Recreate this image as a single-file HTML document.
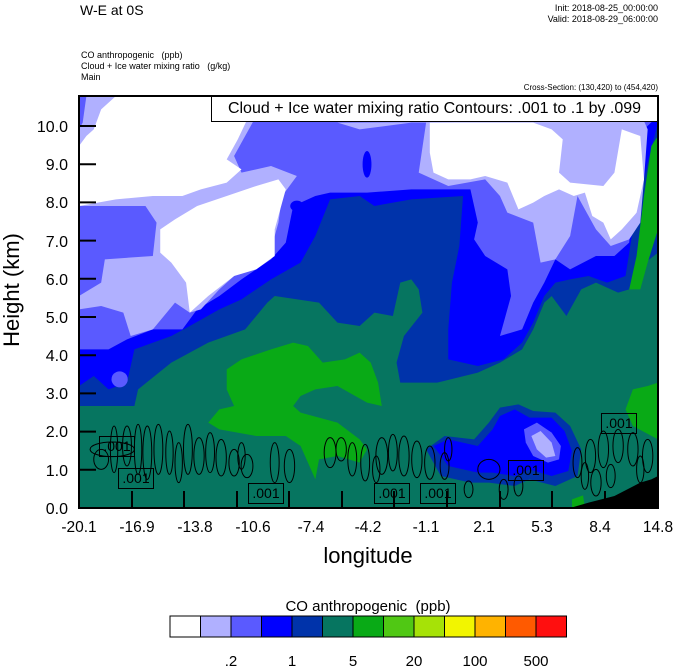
<!DOCTYPE html>
<html><head><meta charset="utf-8"><style>
body{margin:0;background:#fff;width:674px;height:667px;position:relative;overflow:hidden;font-family:"Liberation Sans",sans-serif;color:#000}
.t{position:absolute;white-space:nowrap;line-height:1}
.lb{position:absolute;width:34px;height:19px;border:1px solid #000;font-size:14px;line-height:19px;text-align:center}
</style></head><body>
<div class="t" style="left:80px;top:3px;font-size:14px">W-E at 0S</div>
<div class="t" style="right:16px;top:3px;font-size:9px;text-align:right;line-height:11px">Init: 2018-08-25_00:00:00<br>Valid: 2018-08-29_06:00:00</div>
<div class="t" style="left:81px;top:50px;font-size:9px;line-height:11px">CO anthropogenic &nbsp; (ppb)<br>Cloud + Ice water mixing ratio &nbsp; (g/kg)<br>Main</div>
<div class="t" style="right:16px;top:84px;font-size:8px">Cross-Section: (130,420) to (454,420)</div>

<svg style="position:absolute;left:79px;top:96px" width="579" height="412" viewBox="0 0 1568 1236" preserveAspectRatio="none">
<rect width="1568" height="1236" fill="#067560"/>
<polygon fill="#0033aa" points="0,930 150,930 160,880 250,800 350,740 450,700 510,620 530,600 650,620 700,680 760,690 800,650 850,660 870,560 900,550 920,580 930,650 880,720 860,800 870,860 970,860 1080,830 1140,800 1200,760 1230,700 1260,620 1280,600 1320,660 1360,580 1400,560 1460,590 1490,580 1510,520 1568,470 1568,0 0,0"/>
<polygon fill="#0000ff" points="0,870 40,840 80,880 130,860 150,760 250,720 300,690 380,640 440,610 520,550 600,500 640,420 680,310 760,300 800,330 900,310 1040,300 1030,450 1010,560 1000,700 1000,790 1080,810 1150,790 1200,740 1230,680 1260,600 1290,560 1330,550 1380,540 1430,560 1480,540 1500,400 1540,200 1568,80 1568,0 0,0"/>
<polygon fill="#5a5aff" points="0,760 80,760 130,730 200,700 280,700 320,640 380,600 440,550 520,490 560,440 580,330 640,300 680,290 780,290 900,280 1060,280 1080,380 1070,430 1100,480 1160,520 1170,600 1140,720 1200,700 1230,620 1260,560 1290,490 1330,520 1400,480 1450,480 1490,440 1500,300 1520,200 1530,100 1568,60 1568,0 0,0"/>
<polygon fill="#b0b0ff" points="0,640 60,630 120,650 140,720 200,700 260,620 300,650 330,640 380,580 440,520 520,460 540,380 550,300 590,240 520,210 440,230 420,180 440,140 470,80 500,0 0,0"/>
<polygon fill="#5a5aff" points="0,330 180,330 210,380 200,480 70,490 60,560 0,600"/>
<polygon fill="#b0b0ff" points="700,80 760,100 900,80 940,80 920,230 1000,270 1100,250 1140,300 1160,350 1230,380 1250,500 1290,490 1330,420 1350,300 1400,400 1440,450 1490,430 1520,380 1530,250 1540,100 1530,75"/>
<polygon fill="#5a5aff" points="0,0 20,0 10,80 0,100"/>
<polygon fill="#fff" points="20,120 40,100 60,40 100,0 440,0 460,60 430,130 400,190 440,220 400,260 330,280 280,300 200,300 100,310 0,330 0,150"/>
<polygon fill="#fff" points="220,400 260,370 320,330 400,300 480,270 540,250 560,280 530,400 530,480 480,520 420,540 350,600 300,650 290,560 250,500 220,470"/>
<polygon fill="#fff" points="950,80 1230,80 1280,100 1310,130 1300,230 1330,260 1420,270 1450,230 1470,100 1520,120 1530,250 1510,350 1470,400 1440,430 1420,380 1390,360 1370,290 1340,300 1300,280 1260,300 1230,320 1190,340 1160,260 1100,240 1060,250 1000,250 960,230 950,170"/>
<ellipse cx="590" cy="330" rx="18" ry="16" fill="#0000ff"/>
<ellipse cx="780" cy="205" rx="12" ry="40" fill="#0000ff"/>
<ellipse cx="110" cy="850" rx="22" ry="24" fill="#5a5aff"/>
<polygon fill="#09aa16" points="400,820 440,790 520,760 580,740 620,750 660,800 720,790 760,770 790,800 810,860 820,930 780,920 700,870 640,880 600,900 580,930 600,950 700,980 760,1030 780,1060 760,1100 700,1080 650,1090 640,1150 620,1100 600,1050 560,1020 480,1020 380,1000 350,980 380,940 420,930 400,880"/>
<polygon fill="#09aa16" points="1490,580 1510,480 1530,300 1550,150 1568,120 1568,400 1540,500 1520,580"/>
<polygon fill="#09aa16" points="1480,940 1500,880 1540,870 1568,860 1568,1030 1500,990"/>
<polygon fill="#0033aa" points="940,1060 990,1020 1070,1030 1110,980 1140,935 1190,925 1230,945 1290,950 1330,990 1360,1060 1350,1140 1290,1170 1220,1150 1180,1170 1110,1160 1060,1160 980,1140"/>
<polygon fill="#0000ff" points="960,1050 1000,1030 1080,1050 1120,1000 1140,960 1180,940 1220,965 1280,965 1315,1005 1335,1065 1325,1125 1280,1140 1220,1120 1180,1140 1120,1130 1080,1130 1000,1110"/>
<polygon fill="#5a5aff" points="1205,1000 1240,980 1280,1010 1305,1050 1300,1090 1270,1100 1230,1080 1210,1040"/>
<polygon fill="#b0b0ff" points="1225,1020 1250,1005 1280,1040 1290,1080 1265,1085 1240,1060"/>
<polygon fill="#09aa16" points="1335,1210 1365,1198 1370,1236 1335,1236"/>
<polygon fill="#000" points="1330,1236 1380,1220 1450,1200 1520,1160 1550,1150 1568,1140 1568,1236"/>
<g fill="none" stroke="#000" stroke-width="1">
<ellipse cx="90" cy="1060" rx="60" ry="22" vector-effect="non-scaling-stroke"/>
<ellipse cx="95" cy="1060" rx="10" ry="70" vector-effect="non-scaling-stroke"/>
<ellipse cx="130" cy="1050" rx="12" ry="60" vector-effect="non-scaling-stroke"/>
<ellipse cx="160" cy="1060" rx="10" ry="75" vector-effect="non-scaling-stroke"/>
<ellipse cx="185" cy="1070" rx="12" ry="80" vector-effect="non-scaling-stroke"/>
<ellipse cx="215" cy="1060" rx="12" ry="75" vector-effect="non-scaling-stroke"/>
<ellipse cx="245" cy="1070" rx="10" ry="65" vector-effect="non-scaling-stroke"/>
<ellipse cx="295" cy="1060" rx="12" ry="75" vector-effect="non-scaling-stroke"/>
<ellipse cx="325" cy="1080" rx="14" ry="55" vector-effect="non-scaling-stroke"/>
<ellipse cx="355" cy="1070" rx="12" ry="60" vector-effect="non-scaling-stroke"/>
<ellipse cx="385" cy="1085" rx="14" ry="55" vector-effect="non-scaling-stroke"/>
<ellipse cx="420" cy="1100" rx="14" ry="40" vector-effect="non-scaling-stroke"/>
<ellipse cx="455" cy="1110" rx="16" ry="35" vector-effect="non-scaling-stroke"/>
<ellipse cx="530" cy="1100" rx="12" ry="60" vector-effect="non-scaling-stroke"/>
<ellipse cx="570" cy="1110" rx="14" ry="50" vector-effect="non-scaling-stroke"/>
<ellipse cx="680" cy="1070" rx="16" ry="45" vector-effect="non-scaling-stroke"/>
<ellipse cx="710" cy="1060" rx="14" ry="35" vector-effect="non-scaling-stroke"/>
<ellipse cx="740" cy="1090" rx="12" ry="50" vector-effect="non-scaling-stroke"/>
<ellipse cx="775" cy="1100" rx="12" ry="55" vector-effect="non-scaling-stroke"/>
<ellipse cx="820" cy="1080" rx="16" ry="55" vector-effect="non-scaling-stroke"/>
<ellipse cx="850" cy="1070" rx="12" ry="55" vector-effect="non-scaling-stroke"/>
<ellipse cx="880" cy="1080" rx="14" ry="60" vector-effect="non-scaling-stroke"/>
<ellipse cx="915" cy="1090" rx="14" ry="55" vector-effect="non-scaling-stroke"/>
<ellipse cx="950" cy="1100" rx="14" ry="50" vector-effect="non-scaling-stroke"/>
<ellipse cx="990" cy="1110" rx="12" ry="40" vector-effect="non-scaling-stroke"/>
<ellipse cx="1055" cy="1180" rx="12" ry="25" vector-effect="non-scaling-stroke"/>
<ellipse cx="1110" cy="1120" rx="30" ry="30" vector-effect="non-scaling-stroke"/>
<ellipse cx="1150" cy="1180" rx="12" ry="30" vector-effect="non-scaling-stroke"/>
<ellipse cx="1190" cy="1170" rx="12" ry="30" vector-effect="non-scaling-stroke"/>
<ellipse cx="1350" cy="1100" rx="12" ry="45" vector-effect="non-scaling-stroke"/>
<ellipse cx="1385" cy="1080" rx="14" ry="50" vector-effect="non-scaling-stroke"/>
<ellipse cx="1420" cy="1060" rx="14" ry="55" vector-effect="non-scaling-stroke"/>
<ellipse cx="1460" cy="1050" rx="14" ry="50" vector-effect="non-scaling-stroke"/>
<ellipse cx="1500" cy="1060" rx="14" ry="50" vector-effect="non-scaling-stroke"/>
<ellipse cx="1540" cy="1080" rx="14" ry="50" vector-effect="non-scaling-stroke"/>
<ellipse cx="1400" cy="1160" rx="14" ry="40" vector-effect="non-scaling-stroke"/>
<ellipse cx="1440" cy="1140" rx="12" ry="35" vector-effect="non-scaling-stroke"/>
<ellipse cx="60" cy="1090" rx="20" ry="30" vector-effect="non-scaling-stroke"/>
<ellipse cx="270" cy="1100" rx="10" ry="60" vector-effect="non-scaling-stroke"/>
<ellipse cx="440" cy="1080" rx="10" ry="40" vector-effect="non-scaling-stroke"/>
<ellipse cx="805" cy="1120" rx="10" ry="40" vector-effect="non-scaling-stroke"/>
<ellipse cx="1000" cy="1060" rx="10" ry="35" vector-effect="non-scaling-stroke"/>
<ellipse cx="1370" cy="1140" rx="10" ry="40" vector-effect="non-scaling-stroke"/>
<ellipse cx="1520" cy="1120" rx="10" ry="40" vector-effect="non-scaling-stroke"/>
</g>
</svg>

<div class="lb" style="left:99px;top:436px">.001</div>
<div class="lb" style="left:118px;top:468px">.001</div>
<div class="lb" style="left:248px;top:483px">.001</div>
<div class="lb" style="left:374px;top:483px">.001</div>
<div class="lb" style="left:420px;top:483px">.001</div>
<div class="lb" style="left:508px;top:460px">.001</div>
<div class="lb" style="left:601px;top:413px">.001</div>

<div style="position:absolute;left:211px;top:96px;width:445px;height:24px;background:#fff;border:1px solid #000;font-size:16px;line-height:24px;text-align:center;white-space:nowrap">Cloud + Ice water mixing ratio Contours: .001 to .1 by .099</div>

<svg style="position:absolute;left:0;top:0" width="674" height="667">
<rect x="79" y="96" width="579" height="412" fill="none" stroke="#000" stroke-width="2"/>
<g stroke="#000" stroke-width="2">
<line x1="79" y1="469.8" x2="96" y2="469.8"/><line x1="79" y1="431.6" x2="96" y2="431.6"/><line x1="79" y1="393.4" x2="96" y2="393.4"/><line x1="79" y1="355.2" x2="96" y2="355.2"/><line x1="79" y1="317" x2="96" y2="317"/><line x1="79" y1="278.8" x2="96" y2="278.8"/><line x1="79" y1="240.6" x2="96" y2="240.6"/><line x1="79" y1="202.4" x2="96" y2="202.4"/><line x1="79" y1="164.2" x2="96" y2="164.2"/><line x1="79" y1="126" x2="96" y2="126"/>
<line x1="132" y1="508" x2="132" y2="491"/><line x1="184" y1="508" x2="184" y2="491"/><line x1="237" y1="508" x2="237" y2="491"/><line x1="289" y1="508" x2="289" y2="491"/><line x1="342" y1="508" x2="342" y2="491"/><line x1="394" y1="508" x2="394" y2="491"/><line x1="447" y1="508" x2="447" y2="491"/><line x1="500" y1="508" x2="500" y2="491"/><line x1="552" y1="508" x2="552" y2="491"/><line x1="605" y1="508" x2="605" y2="491"/>
</g>
<g font-family="Liberation Sans, sans-serif" font-size="16" text-anchor="end">
<text x="68" y="514">0.0</text><text x="68" y="476">1.0</text><text x="68" y="437">2.0</text><text x="68" y="399">3.0</text><text x="68" y="361">4.0</text><text x="68" y="323">5.0</text><text x="68" y="285">6.0</text><text x="68" y="247">7.0</text><text x="68" y="208">8.0</text><text x="68" y="170">9.0</text><text x="68" y="132">10.0</text>
</g>
<g font-family="Liberation Sans, sans-serif" font-size="15.5" text-anchor="middle">
<text x="79" y="532">-20.1</text><text x="137" y="532">-16.9</text><text x="195" y="532">-13.8</text><text x="253" y="532">-10.6</text><text x="311" y="532">-7.4</text><text x="368" y="532">-4.2</text><text x="426" y="532">-1.1</text><text x="484" y="532">2.1</text><text x="542" y="532">5.3</text><text x="600" y="532">8.4</text><text x="658" y="532">14.8</text>
<text x="368" y="563" font-size="22">longitude</text>
<text transform="translate(19,290) rotate(-90)" font-size="22">Height (km)</text>
<text x="368" y="611" font-size="15">CO anthropogenic &#160;(ppb)</text>
</g>
<g stroke="#000" stroke-width="1">
<rect x="170" y="616" width="30.5" height="21" fill="#ffffff"/>
<rect x="200.5" y="616" width="30.5" height="21" fill="#b0b0ff"/>
<rect x="231" y="616" width="30.5" height="21" fill="#5a5aff"/>
<rect x="261.5" y="616" width="30.5" height="21" fill="#0000ff"/>
<rect x="292" y="616" width="30.5" height="21" fill="#0033aa"/>
<rect x="322.5" y="616" width="30.5" height="21" fill="#067560"/>
<rect x="353" y="616" width="30.5" height="21" fill="#09aa16"/>
<rect x="383.5" y="616" width="30.5" height="21" fill="#50c814"/>
<rect x="414" y="616" width="30.5" height="21" fill="#a6e207"/>
<rect x="444.5" y="616" width="30.5" height="21" fill="#f2f500"/>
<rect x="475" y="616" width="30.5" height="21" fill="#ffb300"/>
<rect x="505.5" y="616" width="30.5" height="21" fill="#ff5a00"/>
<rect x="536" y="616" width="30.5" height="21" fill="#ff0f0f"/>
</g>
<g font-family="Liberation Sans, sans-serif" font-size="15" text-anchor="middle">
<text x="231" y="666">.2</text><text x="292" y="666">1</text><text x="353" y="666">5</text><text x="414" y="666">20</text><text x="475" y="666">100</text><text x="536" y="666">500</text>
</g>
</svg>
</body></html>
